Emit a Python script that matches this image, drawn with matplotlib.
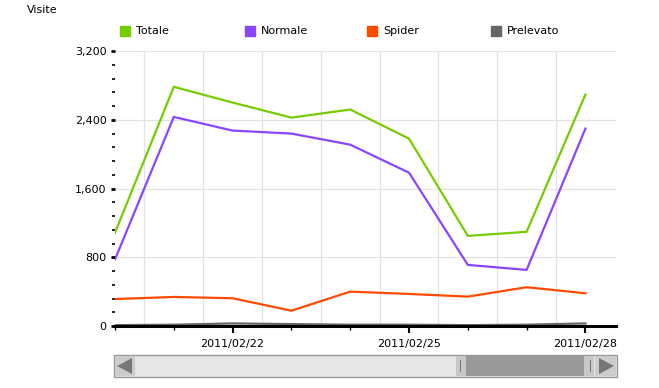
import matplotlib
matplotlib.use("Agg")
import matplotlib.pyplot as plt
import matplotlib.dates as mdates
from matplotlib.patches import Rectangle, Polygon
import datetime as dt

# ---- data ----
dates = ["2011-02-20", "2011-02-21", "2011-02-22", "2011-02-23", "2011-02-24",
         "2011-02-25", "2011-02-26", "2011-02-27", "2011-02-28"]
totale = [1085, 2783, 2600, 2425, 2519, 2180, 1049, 1096, 2693]
normale = [775, 2433, 2274, 2239, 2110, 1784, 711, 653, 2297]
spider = [314, 338, 323, 178, 400, 373, 342, 451, 381]
prelevato = [10, 15, 30, 22, 15, 15, 10, 15, 30]
series_names = ["Totale", "Normale", "Spider", "Prelevato"]
colors = ["#77CC00", "#8A45FF", "#FF4A00", "#666666"]
yticks = [0, 800, 1600, 2400, 3200]
ytick_labels = ["0", "800", "1,600", "2,400", "3,200"]
xtick_dates = ["2011-02-22", "2011-02-25", "2011-02-28"]
xtick_labels = ["2011/02/22", "2011/02/25", "2011/02/28"]

W, H = 659, 388
fig = plt.figure(figsize=(W / 100, H / 100), dpi=100)
plt.rcParams['font.family'] = ['DejaVu Sans']
FS = 8

def fx(px):
    return px / W

def fy(py):
    return 1 - py / H

ax = fig.add_axes([fx(115), fy(326), fx(616) - fx(115), fy(51) - fy(326)])
x = [mdates.date2num(dt.datetime.strptime(d, "%Y-%m-%d")) for d in dates]
x0 = x[0]
ax.set_xlim(x0 + 0.056, x0 + 8.52)
ax.set_ylim(0, 3200)

series = [totale, normale, spider, prelevato]
for vals, c in zip(series[::-1], colors[::-1]):
    ax.plot(x, vals, color=c, lw=1.6, solid_joinstyle='round', zorder=3, clip_on=True)

# grid
for yv in yticks[1:]:
    ax.axhline(yv, color="#E3E3E3", lw=0.9, zorder=1)
for k in range(8):
    ax.axvline(x0 + k + 0.5, color="#E3E3E3", lw=0.9, zorder=1)

for s in ["top", "right", "left"]:
    ax.spines[s].set_visible(False)
ax.spines["bottom"].set_linewidth(2.2)
ax.spines["bottom"].set_color("black")
ax.spines["bottom"].set_zorder(4)

ax.set_yticks(yticks)
ax.set_yticklabels(ytick_labels)
ax.set_yticks([v for v in range(0, 3201, 160) if v % 800 != 0], minor=True)
xt = [mdates.date2num(dt.datetime.strptime(d, "%Y-%m-%d")) for d in xtick_dates]
ax.set_xticks(xt)
ax.set_xticklabels(xtick_labels)
ax.set_xticks([xx for xx in x if xx not in xt], minor=True)

ax.tick_params(axis="y", which="major", length=3, width=2, pad=3, labelsize=FS, direction="out")
ax.tick_params(axis="y", which="minor", length=2, width=1.2, direction="out")
ax.tick_params(axis="x", which="major", length=5, width=1.5, pad=4, labelsize=FS, direction="out")
ax.tick_params(axis="x", which="minor", length=3, width=1, direction="out")

# title / y label
fig.text(fx(27), fy(10), "Visite", fontsize=FS, va="center", ha="left")

# legend
leg_x = [120, 245, 367, 491]
for name, c, lx in zip(series_names, colors, leg_x):
    fig.add_artist(Rectangle((fx(lx), fy(36)), fx(10), fy(26) - fy(36), color=c,
                             transform=fig.transFigure))
    fig.text(fx(lx + 16), fy(31.5), name, fontsize=FS, va="center", ha="left")

# scrollbar
def rect(x1, y1, x2, y2, fc, ec="none", lw=0):
    fig.add_artist(Rectangle((fx(x1), fy(y2)), fx(x2) - fx(x1), fy(y1) - fy(y2),
                             facecolor=fc, edgecolor=ec, lw=lw, transform=fig.transFigure))

rect(114, 355, 617, 377, "#E5E5E5", "#999999", 1.0)
# left button
rect(115, 356, 135, 376, "#CCCCCC")
fig.add_artist(Polygon([(fx(117), fy(366)), (fx(132), fy(358)), (fx(132), fy(374))],
                       closed=True, facecolor="#777777", edgecolor="none", transform=fig.transFigure))
# thumb
rect(456, 356, 594, 376, "#999999")
rect(456, 356, 466, 376, "#C8C8C8")
rect(584, 356, 594, 376, "#C8C8C8")
rect(459.5, 360, 460.5, 372, "#777777")
rect(589.5, 360, 590.5, 372, "#777777")
# right button
rect(595, 356, 616, 376, "#CCCCCC")
fig.add_artist(Polygon([(fx(614), fy(366)), (fx(599), fy(358)), (fx(599), fy(374))],
                       closed=True, facecolor="#777777", edgecolor="none", transform=fig.transFigure))

fig.savefig("out.png", dpi=100)
